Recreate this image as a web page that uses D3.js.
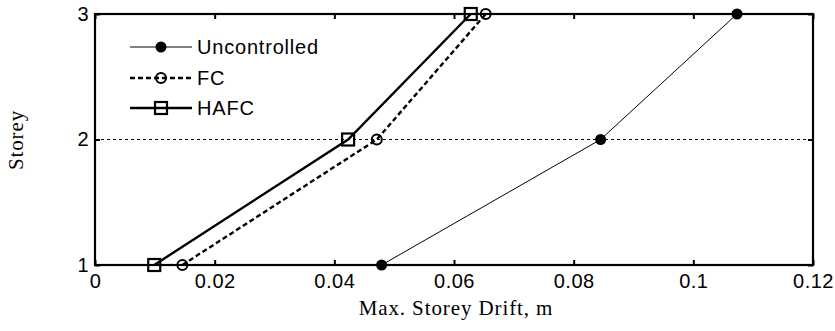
<!DOCTYPE html>
<html><head><meta charset="utf-8">
<script src="https://cdn.jsdelivr.net/npm/d3@7"></script>
<style>body{margin:0;background:#fff;} svg{display:block;}</style>
</head><body>
<svg id="c" width="835" height="331"></svg>
<script>
const storeys = [1, 2, 3];
const uncontrolled = [0.0479, 0.0845, 0.1073];
const fc = [0.0146, 0.0471, 0.0653];
const hafc = [0.0099, 0.0423, 0.0628];
const seriesNames = ["Uncontrolled", "FC", "HAFC"];
const xTicks = [0, 0.02, 0.04, 0.06, 0.08, 0.1, 0.12];
const yTicks = [1, 2, 3];

const svg = d3.select("#c");
const L = 95, R = 813, T = 14, B = 265;
const x = d3.scaleLinear().domain([0, 0.12]).range([L, R]);
const y = d3.scaleLinear().domain([1, 3]).range([B, T]);
const sans = "'Liberation Sans', Arial, sans-serif";
const serif = "'Liberation Serif', 'Times New Roman', serif";

// grid at storey 2
svg.append("line").attr("x1", L).attr("x2", R).attr("y1", y(2)).attr("y2", y(2))
  .attr("stroke", "#000").attr("stroke-width", 1).attr("stroke-dasharray", "3,3");

// axes
const fmt = d => d === 0 ? "0" : String(d);
const gB = svg.append("g").attr("transform", `translate(0,${B})`)
  .call(d3.axisBottom(x).tickValues(xTicks).tickFormat(fmt).tickSize(-5).tickPadding(8));
const gT = svg.append("g").attr("transform", `translate(0,${T})`)
  .call(d3.axisTop(x).tickValues(xTicks).tickFormat("").tickSize(-5));
const gL = svg.append("g").attr("transform", `translate(${L},0)`)
  .call(d3.axisLeft(y).tickValues(yTicks).tickFormat(d3.format("d")).tickSize(-5).tickPadding(6));
const gR = svg.append("g").attr("transform", `translate(${R},0)`)
  .call(d3.axisRight(y).tickValues(yTicks).tickFormat("").tickSize(-5));
[gB, gT, gL, gR].forEach(g => {
  g.select(".domain").remove();
  g.selectAll(".tick line").attr("stroke", "#000").attr("stroke-width", 2);
  g.selectAll("text").attr("font-family", sans).attr("font-size", 20).attr("fill", "#000")
    .attr("letter-spacing", "0.5px");
});
gB.selectAll("text").attr("dy", "0.71em").attr("y", 9);
svg.append("rect").attr("x", L).attr("y", T).attr("width", R - L).attr("height", B - T)
  .attr("fill", "none").attr("stroke", "#000").attr("stroke-width", 2.2);

// axis labels
svg.append("text").attr("x", 456).attr("y", 315).attr("text-anchor", "middle")
  .attr("font-family", serif).attr("font-size", 21).attr("letter-spacing", "0.9px").text("Max. Storey Drift, m");
svg.append("text").attr("transform", "translate(23,140) rotate(-90)").attr("text-anchor", "middle")
  .attr("font-family", serif).attr("font-size", 21).attr("letter-spacing", "0.9px").text("Storey");

const line = d3.line().x(d => x(d[0])).y(d => y(d[1]));
const series = [
  {name: seriesNames[0], vals: uncontrolled, w: 1, dash: null, marker: "dot"},
  {name: seriesNames[1], vals: fc, w: 2.4, dash: "5,3", marker: "circle"},
  {name: seriesNames[2], vals: hafc, w: 2.4, dash: null, marker: "square"}
];
function drawMarker(g, m, cx, cy) {
  if (m === "dot") g.append("circle").attr("cx", cx).attr("cy", cy).attr("r", 5.5).attr("fill", "#000");
  else if (m === "circle") g.append("circle").attr("cx", cx).attr("cy", cy).attr("r", 5)
    .attr("fill", "none").attr("stroke", "#000").attr("stroke-width", 2);
  else g.append("rect").attr("x", cx - 6).attr("y", cy - 6).attr("width", 12).attr("height", 12)
    .attr("fill", "none").attr("stroke", "#000").attr("stroke-width", 2.2);
}
series.forEach(s => {
  const pts = s.vals.map((v, i) => [v, storeys[i]]);
  svg.append("path").attr("d", line(pts)).attr("fill", "none").attr("stroke", "#000")
    .attr("stroke-width", s.w).attr("stroke-dasharray", s.dash);
  const g = svg.append("g");
  pts.forEach(p => drawMarker(g, s.marker, x(p[0]), y(p[1])));
});

// legend
const legY = [47, 78, 108];
series.forEach((s, i) => {
  svg.append("line").attr("x1", 130).attr("x2", 192).attr("y1", legY[i]).attr("y2", legY[i])
    .attr("stroke", "#000").attr("stroke-width", s.w).attr("stroke-dasharray", s.dash);
  drawMarker(svg.append("g"), s.marker, 161, legY[i]);
  svg.append("text").attr("x", 197).attr("y", legY[i]).attr("dy", "0.36em")
    .attr("font-family", sans).attr("font-size", 20).attr("letter-spacing", "0.8px").text(s.name);
});
</script>
</body></html>
